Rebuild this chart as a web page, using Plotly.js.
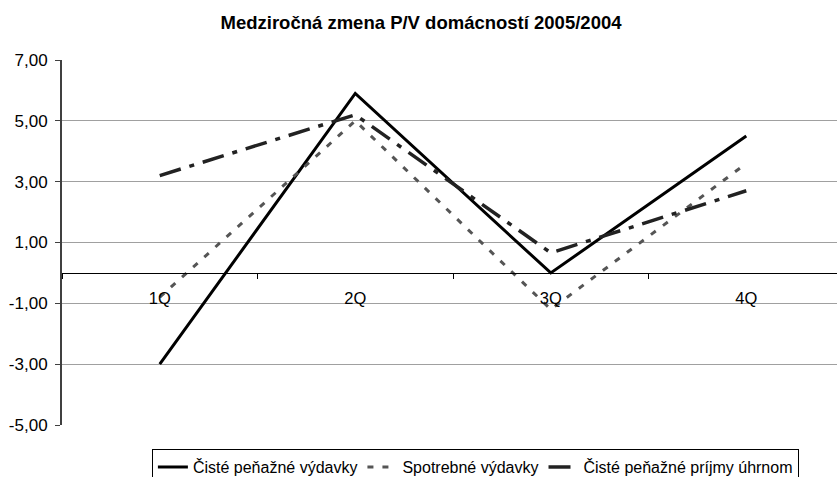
<!DOCTYPE html>
<html>
<head>
<meta charset="utf-8">
<script src="https://cdn.plot.ly/plotly-3.0.1.min.js"></script>
<style>html,body{margin:0;padding:0;background:#fff;}#chart{width:837px;height:477px;}</style>
</head>
<body>
<div id="chart"></div>
<script>
const categories = ['1Q', '2Q', '3Q', '4Q'];
const vydavky = [-3.0, 5.9, 0.0, 4.5];
const spotrebne = [-0.8, 5.0, -1.2, 3.6];
const prijmy = [3.2, 5.2, 0.66, 2.7];
const yTicks = [-5, -3, -1, 1, 3, 5, 7];
const yTickText = yTicks.map(v => v.toFixed(2).replace('.', ','));

const FONT = "'Liberation Sans', Arial, sans-serif";

const traces = [
  {x: categories, y: vydavky, type: 'scatter', mode: 'lines', name: 'Čisté peňažné výdavky',
   line: {color: '#000000', width: 3}},
  {x: categories, y: spotrebne, type: 'scatter', mode: 'lines', name: 'Spotrebné výdavky',
   line: {color: '#555555', width: 3, dash: '6px,9px'}},
  {x: categories, y: prijmy, type: 'scatter', mode: 'lines', name: 'Čisté peňažné príjmy úhrnom',
   line: {color: '#222222', width: 3.5, dash: '22px,9px,5px,9px'}}
];

const layout = {
  width: 837, height: 477,
  margin: {l: 62, r: 0, t: 60, b: 52, autoexpand: false},
  paper_bgcolor: '#ffffff', plot_bgcolor: '#ffffff',
  font: {family: FONT, size: 16, color: '#000'},
  title: {text: '<b>Medziročná zmena P/V domácností 2005/2004</b>', x: 0.503, xref: 'container', xanchor: 'center',
          y: 0.952, yanchor: 'middle',
          font: {family: FONT, size: 18.5, color: '#000'}},
  showlegend: true,
  legend: {orientation: 'h', x: 0.116, xanchor: 'left', y: -0.066, yanchor: 'top',
           bordercolor: '#000', borderwidth: 1, font: {family: FONT, size: 16}, traceorder: 'normal',
           itemwidth: 30, tracegroupgap: 0},
  xaxis: {type: 'category', range: [-0.5, 3.464], anchor: 'free', position: 5/12,
          showline: true, linecolor: '#000', linewidth: 1, showgrid: false, zeroline: false,
          ticks: 'outside', ticklen: 5, tickcolor: '#000', tickson: 'boundaries',
          ticklabelstandoff: 10, tickfont: {family: FONT, size: 16.5}},
  yaxis: {range: [-5, 7], tickvals: yTicks, ticktext: yTickText, showline: true, linecolor: '#404040', linewidth: 2,
          showgrid: true, gridcolor: '#a0a0a0', gridwidth: 1, zeroline: false,
          ticks: 'outside', ticklen: 5, tickcolor: '#404040', ticklabelstandoff: 4, tickfont: {family: FONT, size: 17}}
};

Plotly.newPlot('chart', traces, layout, {displayModeBar: false, staticPlot: true});
</script>
</body>
</html>
